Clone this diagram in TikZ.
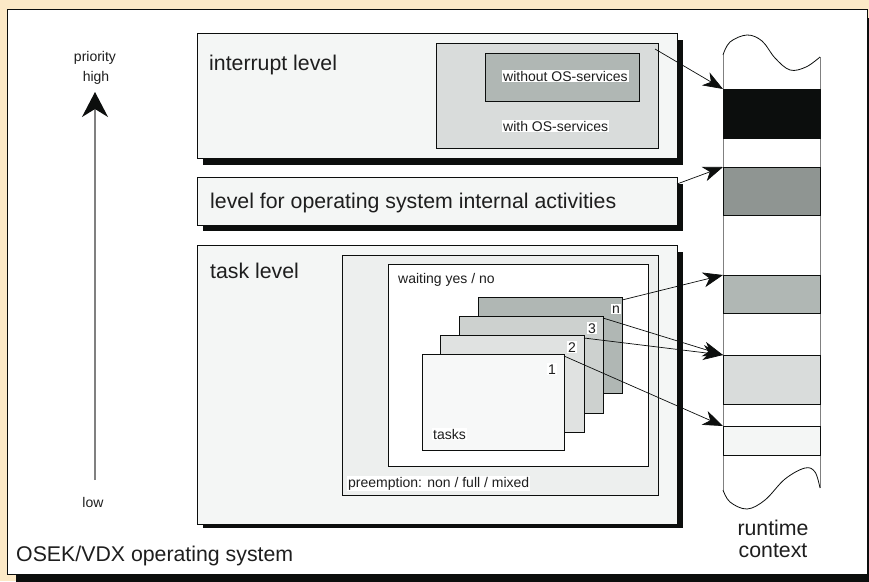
\documentclass[tikz,border=0pt]{standalone}
\usepackage{fontspec}
\setmainfont{Liberation Sans}
\usetikzlibrary{arrows.meta}
\definecolor{bg}{RGB}{252,233,199}
\definecolor{txt}{RGB}{30,30,30}
\definecolor{lvl}{RGB}{244,246,245}
\definecolor{gA}{RGB}{217,220,219}
\definecolor{gB}{RGB}{176,183,180}
\definecolor{gC}{RGB}{143,149,146}
\definecolor{gD}{RGB}{205,209,207}
\definecolor{gE}{RGB}{224,226,225}
\definecolor{gF}{RGB}{247,248,248}
\definecolor{gP}{RGB}{237,239,238}
\definecolor{blk}{RGB}{12,14,13}
\begin{document}
\begin{tikzpicture}[x=1pt,y=-1pt,
  rbox/.style={draw=blk, line width=0.8pt, inner sep=0pt, outer sep=0pt, anchor=north west},
  band/.style={draw=blk, line width=0.8pt, inner sep=0pt, outer sep=0pt, anchor=north west, minimum width=97pt},
  big/.style={font=\fontsize{21.3}{24}\selectfont, inner sep=0pt, text=txt},
  small/.style={font=\fontsize{14}{16}\selectfont, inner sep=0pt, text=txt},
  wbg/.style={fill=white, inner sep=1pt},
  conn/.style={draw=blk, line width=0.7pt, -{Stealth[length=20pt,width=15pt,inset=6pt]}},
  shadow/.style={fill=blk}]
\useasboundingbox (0,0) rectangle (869,581);
\clip (0,0) rectangle (869,581);
\fill[bg] (0,0) rectangle (869,581);
% outer frame
\fill[shadow] (16,18) rectangle (885,595);
\node[rbox, fill=white, minimum width=860pt, minimum height=565pt] (frame) at (7,9) {};

% priority arrow
\coordinate (plow) at (95,480);
\coordinate (phigh) at (95,92);
\draw[gray, line width=1.3pt, -{Stealth[length=25pt,width=26pt,inset=8pt,color=blk]}] (plow) -- (phigh);
\node[small, anchor=base] (prio) at (95,61) {priority};
\node[small, anchor=base] (high) at (96,81) {high};
\node[small, anchor=base] (low) at (93,507) {low};

% interrupt level
\fill[shadow] (203,40) rectangle (683,165);
\node[rbox, fill=lvl, minimum width=480pt, minimum height=125pt] (intlevel) at (197,33) {};
\node[big, anchor=base west] (intlabel) at (209,70) {interrupt level};
\node[rbox, fill=gA, minimum width=222pt, minimum height=105pt] (intouter) at (436,43) {};
\node[rbox, fill=gB, minimum width=154pt, minimum height=48pt] (intinner) at (485,53) {};
\node[small, wbg, anchor=base west] (without) at (502,81) {without OS-services};
\node[small, wbg, anchor=base west] (with) at (502,131) {with OS-services};

% OS level
\fill[shadow] (203,184) rectangle (683,231);
\node[rbox, fill=lvl, minimum width=480pt, minimum height=48pt] (oslevel) at (197,177) {};
\node[big, anchor=base west] (oslabel) at (210,208) {level for operating system internal activities};

% task level
\fill[shadow] (203,252) rectangle (683,528);
\node[rbox, fill=lvl, minimum width=480pt, minimum height=279pt] (tasklevel) at (197,245) {};
\node[big, anchor=base west] (tasklabel) at (210,278) {task level};
\node[rbox, fill=gP, minimum width=316pt, minimum height=240pt] (preempt) at (342,255) {};
\node[rbox, fill=white, minimum width=260pt, minimum height=202pt] (waiting) at (388,264) {};
\node[small, anchor=base west] (waitlabel) at (398,283) {waiting yes / no};
\node[small, wbg, anchor=base west] (prelabel) at (347,487) {preemption: non / full / mixed};

\node[rbox, fill=gB, minimum width=144pt, minimum height=96pt] (cardn) at (478,297) {};
\node[rbox, fill=gD, minimum width=144pt, minimum height=97pt] (card3) at (459,316) {};
\node[rbox, fill=gE, minimum width=144pt, minimum height=97pt] (card2) at (440,335) {};
\node[rbox, fill=gF, minimum width=142pt, minimum height=96pt] (card1) at (422,354) {};
\node[small, wbg, anchor=base west] (ln) at (611,313) {n};
\node[small, wbg, anchor=base west] (l3) at (587,333) {3};
\node[small, wbg, anchor=base west] (l2) at (567,352) {2};
\node[small, wbg, anchor=base west] (l1) at (547,374) {1};
\node[small, wbg, anchor=base west] (tasks) at (432,439) {tasks};

% runtime context
\draw[gray, line width=0.8pt] (723,55) -- (723,490);
\draw[gray, line width=0.8pt] (820,57) -- (820,488);
\draw[blk, line width=0.8pt] plot[smooth, tension=0.6] coordinates {(723,55) (730,42) (747,35) (762,41) (775,58) (790,70) (806,67) (820,57)};
\draw[blk, line width=0.8pt] plot[smooth, tension=0.6] coordinates {(723,490) (730,502) (747,509) (765,500) (785,479) (805,468) (815,472) (820,488)};
\node[band, fill=blk, minimum height=49pt] (band1) at (723,89) {};
\node[band, fill=gC, minimum height=48pt] (band2) at (723,167) {};
\node[band, fill=gB, minimum height=38pt] (band3) at (723,275) {};
\node[band, fill=gA, minimum height=49pt] (band4) at (723,355) {};
\node[band, fill=lvl, minimum height=29pt] (band5) at (723,426) {};
\node[big, anchor=base] (rt1) at (773,535) {runtime};
\node[big, anchor=base] (rt2) at (773,557) {context};

% connectors
\draw[conn] ([xshift=-3pt,yshift=-6pt]intouter.north east) -- (band1.north west);
\draw[conn] ([yshift=-7pt]oslevel.north east) -- (band2.north west);
\draw[conn] ([yshift=-3pt]cardn.north east) -- (band3.north west);
\draw[conn] ([yshift=-2pt]card3.north east) -- (band4.north west);
\draw[conn] ([yshift=-3pt]card2.north east) -- (band4.north west);
\draw[conn] ([yshift=-2pt]card1.north east) -- (band5.north west);

% OSEK label
\node[big, anchor=base west] (osek) at (16,561) {OSEK/VDX operating system};
\end{tikzpicture}
\end{document}
